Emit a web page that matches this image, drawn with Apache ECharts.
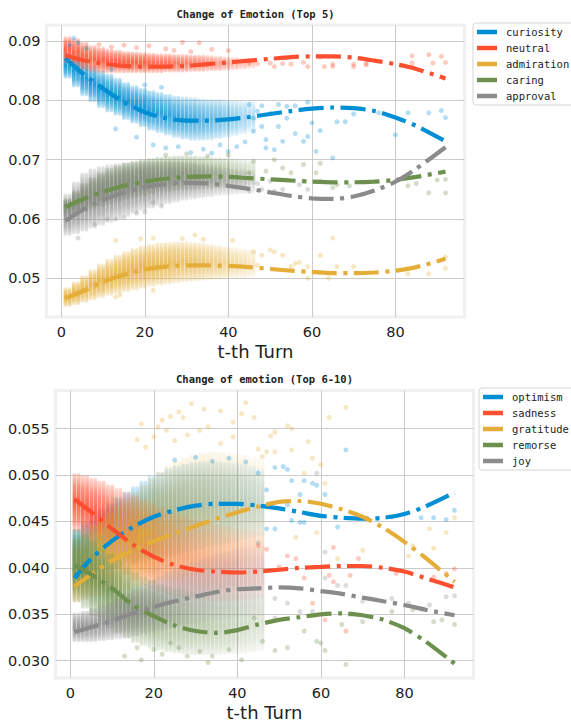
<!DOCTYPE html>
<html>
<head>
<meta charset="utf-8">
<script src="https://cdn.jsdelivr.net/npm/echarts@6/dist/echarts.min.js"></script>
<style>
html,body{margin:0;padding:0;background:#fff;}
#chart{width:571px;height:722px;}
</style>
</head>
<body>
<div id="chart"></div>
<script>
// ---------- DATA ----------
const topTitle = 'Change of Emotion (Top 5)';
const bottomTitle = 'Change of emotion (Top 6-10)';
const xName = 't-th Turn';
const topNames = ['curiosity', 'neutral', 'admiration', 'caring', 'approval'];
const bottomNames = ['optimism', 'sadness', 'gratitude', 'remorse', 'joy'];

// polynomial trend lines
const trendT = [1, 5, 10, 15, 20, 25, 30, 35, 40, 45, 50, 55, 60, 65, 70, 75, 80, 85, 92];
const curiosityFit = [.0871, .0846, .0820, .0797, .0780, .0770, .0766, .0766, .0768, .0772, .0777, .0782, .0786, .0788, .0787, .0782, .0771, .0757, .0731];
const neutralFit = [.0876, .0868, .0862, .0858, .0857, .0857, .0858, .0861, .0864, .0867, .0870, .0873, .0874, .0874, .0872, .0867, .0861, .0853, .0837];
const admirationFit = [.0467, .0478, .0494, .0506, .0515, .0520, .0522, .0522, .0521, .0519, .0516, .0513, .0511, .0509, .0509, .0510, .0513, .0519, .0533];
const caringFit = [.0620, .0633, .0646, .0656, .0663, .0668, .0671, .0672, .0671, .0669, .0667, .0665, .0663, .0662, .0662, .0663, .0666, .0671, .0680];
const approvalFit = [.0597, .0615, .0632, .0645, .0654, .0659, .0661, .0660, .0656, .0651, .0645, .0639, .0635, .0634, .0638, .0648, .0663, .0685, .0721];

const optimismFit = [.0389, .0410, .0429, .0444, .0455, .0462, .0467, .0469, .0469, .0467, .0464, .0460, .0456, .0454, .0453, .0454, .0458, .0466, .0481];
const sadnessFit = [.0474, .0460, .0442, .0425, .0412, .0403, .0398, .0396, .0395, .0396, .0398, .0400, .0401, .0402, .0402, .0400, .0396, .0389, .0379];
const gratitudeFit = [.0380, .0393, .0408, .0419, .0429, .0437, .0445, .0453, .0460, .0466, .0471, .0472, .0469, .0463, .0455, .0443, .0428, .0411, .0385];
const remorseFit = [.0403, .0393, .0378, .0360, .0348, .0338, .0332, .0330, .0333, .0339, .0344, .0347, .0350, .0351, .0349, .0344, .0335, .0321, .0297];
const joyFit = [.0331, .0336, .0343, .0351, .0358, .0364, .0369, .0374, .0377, .0378, .0379, .0378, .0375, .0372, .0368, .0364, .0360, .0355, .0349];

// dense point clouds: turn, low and high edge of the cloud, relative density
const bandT = [1, 3, 5, 7, 9, 11, 13, 15, 17, 19, 21, 23, 25, 27, 29, 31, 33, 35, 37, 39, 41, 43, 45];
const topDensity = [1, 1, 1, 1, 1, 1, 1, 1, 1, 1, .95, .92, .9, .87, .84, .8, .75, .7, .64, .57, .5, .42, .34];
const bottomDensity = [1, 1, 1, 1, 1, .95, .9, .85, .8, .75, .7, .66, .62, .58, .55, .52, .49, .46, .43, .39, .35, .31, .27];

const curiosityLo = [.0840, .0825, .0810, .0800, .0790, .0783, .0777, .0770, .0764, .0758, .0752, .0748, .0744, .0740, .0737, .0735, .0735, .0736, .0738, .0740, .0743, .0746, .0750];
const curiosityHi = [.0878, .0875, .0865, .0856, .0848, .0842, .0835, .0828, .0822, .0818, .0814, .0811, .0808, .0805, .0803, .0802, .0800, .0799, .0799, .0798, .0797, .0796, .0795];
const neutralLo = [.0866, .0860, .0853, .0850, .0849, .0849, .0849, .0849, .0849, .0849, .0849, .0849, .0850, .0850, .0850, .0851, .0851, .0852, .0852, .0853, .0854, .0855, .0856];
const neutralHi = [.0905, .0902, .0896, .0890, .0887, .0884, .0882, .0880, .0879, .0878, .0877, .0876, .0876, .0875, .0875, .0874, .0874, .0873, .0872, .0871, .0870, .0869, .0868];
const admirationLo = [.0455, .0458, .0462, .0466, .0470, .0474, .0477, .0480, .0483, .0486, .0489, .0491, .0493, .0495, .0497, .0498, .0499, .0500, .0501, .0502, .0503, .0504, .0505];
const admirationHi = [.0482, .0492, .0502, .0512, .0522, .0530, .0537, .0543, .0548, .0552, .0555, .0557, .0558, .0559, .0559, .0558, .0557, .0555, .0553, .0551, .0549, .0547, .0545];
const caringLo = [.0610, .0612, .0615, .0619, .0623, .0627, .0631, .0635, .0638, .0641, .0644, .0646, .0648, .0650, .0651, .0652, .0653, .0654, .0655, .0656, .0657, .0658, .0659];
const caringHi = [.0632, .0645, .0658, .0668, .0676, .0683, .0688, .0692, .0695, .0698, .0700, .0702, .0703, .0704, .0704, .0704, .0703, .0702, .0701, .0700, .0699, .0698, .0697];
const approvalLo = [.0575, .0578, .0582, .0587, .0592, .0597, .0602, .0607, .0612, .0617, .0621, .0625, .0628, .0631, .0634, .0636, .0638, .0640, .0642, .0643, .0644, .0645, .0646];
const approvalHi = [.0640, .0660, .0675, .0682, .0686, .0689, .0691, .0693, .0694, .0695, .0695, .0695, .0695, .0694, .0693, .0692, .0690, .0688, .0686, .0684, .0682, .0680, .0678];

const optimismLo = [.0385, .0390, .0395, .0398, .0400, .0402, .0404, .0406, .0408, .0410, .0412, .0414, .0416, .0418, .0420, .0422, .0424, .0426, .0428, .0430, .0432, .0434, .0436];
const optimismHi = [.0440, .0448, .0455, .0462, .0468, .0474, .0480, .0486, .0492, .0497, .0501, .0505, .0508, .0510, .0512, .0513, .0513, .0513, .0512, .0511, .0510, .0508, .0505];
const sadnessLo = [.0440, .0432, .0424, .0416, .0408, .0400, .0394, .0388, .0383, .0379, .0376, .0373, .0371, .0369, .0368, .0367, .0366, .0366, .0366, .0366, .0367, .0368, .0369];
const sadnessHi = [.0500, .0498, .0495, .0492, .0488, .0484, .0480, .0476, .0472, .0468, .0464, .0460, .0457, .0454, .0451, .0449, .0447, .0445, .0443, .0441, .0440, .0439, .0438];
const gratitudeLo = [.0365, .0368, .0370, .0372, .0374, .0376, .0378, .0380, .0382, .0384, .0386, .0388, .0390, .0392, .0394, .0396, .0398, .0400, .0402, .0404, .0406, .0408, .0410];
const gratitudeHi = [.0430, .0438, .0445, .0452, .0458, .0465, .0472, .0480, .0488, .0495, .0502, .0508, .0513, .0517, .0520, .0522, .0523, .0523, .0522, .0521, .0520, .0518, .0516];
const remorseLo = [.0365, .0358, .0350, .0343, .0337, .0331, .0326, .0321, .0318, .0315, .0313, .0311, .0310, .0309, .0308, .0308, .0308, .0308, .0309, .0309, .0310, .0311, .0312];
const remorseHi = [.0440, .0435, .0428, .0421, .0414, .0407, .0400, .0394, .0389, .0385, .0381, .0378, .0376, .0374, .0372, .0371, .0370, .0370, .0370, .0370, .0370, .0370, .0370];
const joyLo = [.0322, .0322, .0322, .0323, .0324, .0325, .0326, .0328, .0330, .0332, .0334, .0336, .0338, .0340, .0342, .0343, .0344, .0345, .0346, .0347, .0348, .0349, .0350];
const joyHi = [.0350, .0352, .0355, .0358, .0362, .0366, .0371, .0376, .0381, .0386, .0390, .0394, .0398, .0402, .0405, .0408, .0411, .0414, .0416, .0418, .0420, .0421, .0422];

// sparse individual points
const curiosityDots = [[45,.0793],[48,.0791],[52,.0793],[54,.0790],[56,.0791],[59,.0797],[46,.0748],[48,.0756],[49,.0734],[52,.0756],[53,.0731],[56,.0744],[58,.0731],[59,.0739],[60,.0762],[61,.0714],[62,.0749],[66,.0764],[68,.0764],[65,.0703],[70,.0777],[76,.0779],[83,.0779],[88,.0779],[91,.0783],[92,.0771],[80,.0742],[51,.0717],[49,.0720],[13,.0752],[18,.0738],[22,.0725],[25,.0720],[28,.0722],[31,.0712],[34,.0718],[36,.0711],[38,.0725],[40,.0714],[42,.0722],[44,.0730],[3,.0905],[2,.0893],[4,.0897],[6,.0888],[12,.0852],[20,.0826],[24,.0822],[46,.0770],[50,.0778],[47,.0782],[54,.0770]];
const neutralDots = [[9,.0894],[12,.0890],[15,.0893],[18,.0889],[21,.0892],[25,.0887],[27,.0884],[29,.0898],[31,.0882],[33,.0897],[36,.0886],[40,.0884],[45,.0863],[47,.0862],[50,.0863],[51,.0857],[53,.0862],[55,.0861],[58,.0864],[59,.0857],[62,.0873],[63,.0857],[65,.0861],[70,.0861],[73,.0862],[84,.0875],[88,.0877],[91,.0874],[92,.0864],[89,.0863],[84,.0863],[65,.0857],[70,.0857],[73,.0860]];
const admirationDots = [[13,.0469],[14,.0472],[22,.0480],[13,.0564],[19,.0567],[22,.0568],[29,.0567],[32,.0573],[34,.0566],[41,.0564],[46,.0545],[48,.0539],[50,.0548],[51,.0545],[53,.0539],[56,.0525],[57,.0527],[59,.0520],[62,.0539],[65,.0568],[64,.0500],[59,.0500],[66,.0520],[70,.0520],[83,.0508],[88,.0508],[92,.0517],[92,.0536],[47,.0522],[55,.0520]];
const caringDots = [[46,.0697],[51,.0700],[45,.0678],[49,.0681],[53,.0686],[55,.0678],[58,.0664],[58,.0692],[61,.0678],[65,.0653],[69,.0656],[83,.0656],[88,.0644],[92,.0667],[92,.0644],[90,.0666],[85,.0660],[62,.0694],[66,.0658],[25,.0708],[30,.0710],[35,.0706],[40,.0708]];
const approvalDots = [[45,.0647],[48,.0650],[51,.0647],[53,.0650],[57,.0658],[59,.0650],[62,.0664],[47,.0660],[50,.0664],[54,.0666],[4,.0568],[8,.0591],[11,.0600],[13,.0600],[15,.0603],[18,.0610],[20,.0612],[22,.0628],[24,.0622]];

const optimismDots = [[66,.0527],[49,.0508],[51,.0509],[52,.0506],[45,.0502],[47,.0484],[53,.0494],[56,.0494],[58,.0491],[59,.0489],[55,.0479],[61,.0479],[52,.0468],[56,.0449],[53,.0451],[49,.0442],[47,.0442],[64,.0444],[77,.0455],[84,.0454],[87,.0454],[90,.0452],[92,.0462],[55,.0449],[25,.0516],[30,.0519],[34,.0515],[38,.0518],[42,.0514]];
const sadnessDots = [[45,.0424],[47,.0420],[52,.0413],[50,.0401],[54,.0410],[56,.0389],[63,.0422],[66,.0332],[69,.0410],[62,.0392],[67,.0392],[78,.0394],[92,.0399],[90,.0394],[87,.0390],[58,.0362],[61,.0344],[63,.0385]];
const gratitudeDots = [[66,.0573],[62,.0562],[52,.0553],[53,.0550],[49,.0546],[48,.0542],[57,.0536],[49,.0525],[53,.0527],[58,.0518],[60,.0511],[61,.0491],[56,.0502],[70,.0419],[64,.0410],[86,.0442],[90,.0438],[87,.0421],[92,.0454],[81,.0413],[82,.0424],[46,.0520],[47,.0525],[45,.0528],[54,.0433],[59,.0438],[17,.0555],[16,.0538],[21,.0552],[22,.0559],[24,.0563],[26,.0568],[27,.0562],[29,.0577],[32,.0571],[36,.0569],[41,.0566],[42,.0578],[44,.0562],[23,.0548],[20,.0541],[18,.0530],[31,.0548],[33,.0552],[36,.0534],[39,.0557],[39,.0541],[25,.0537],[28,.0543]];
const remorseDots = [[44,.0346],[46,.0321],[49,.0311],[52,.0314],[56,.0332],[59,.0321],[60,.0319],[61,.0311],[66,.0296],[67,.0350],[70,.0342],[77,.0353],[82,.0355],[87,.0342],[89,.0344],[92,.0339],[65,.0339],[13,.0305],[17,.0301],[20,.0312],[22,.0307],[26,.0314],[28,.0305],[31,.0310],[33,.0298],[34,.0305],[38,.0312],[41,.0301],[24,.0319],[16,.0314]];
const joyDots = [[59,.0502],[61,.0417],[61,.0389],[64,.0381],[66,.0381],[70,.0364],[77,.0367],[81,.0362],[86,.0360],[92,.0370],[90,.0369],[49,.0367],[52,.0362],[55,.0353],[49,.0346],[58,.0353],[45,.0427]];

// ---------- STYLE ----------
const COLORS = ['#008fd5', '#fc4f30', '#e5ae38', '#6d904f', '#8b8b8b'];
const TEXT = '#222';
const SANS = '"DejaVu Sans", sans-serif';
const MONO = '"DejaVu Sans Mono", monospace';

function rgba(hex, a) {
  const n = parseInt(hex.slice(1), 16);
  return 'rgba(' + (n >> 16) + ',' + ((n >> 8) & 255) + ',' + (n & 255) + ',' + a.toFixed(3) + ')';
}

function bandSeries(name, lo, hi, density, color, gi) {
  return {
    type: 'custom', name: name + '_cloud', xAxisIndex: gi, yAxisIndex: gi,
    silent: true, clip: true, z: 2,
    data: bandT.map((t, i) => [t, lo[i], hi[i], density[i]]),
    encode: { x: 0, y: [1, 2] },
    renderItem: function (params, api) {
      const t = api.value(0), l = api.value(1), h = api.value(2), d = api.value(3);
      const kids = [];
      for (const dt of [0, 1]) {
        const p1 = api.coord([t + dt, h]);
        const p2 = api.coord([t + dt, l]);
        kids.push({
          type: 'rect',
          shape: { x: p1[0] - 1.9, y: p1[1] - 2, width: 3.8, height: p2[1] - p1[1] + 4, r: 1.9 },
          style: {
            fill: new echarts.graphic.LinearGradient(0, 0, 0, 1, [
              { offset: 0, color: rgba(color, 0.2 * d) },
              { offset: 0.22, color: rgba(color, 0.62 * d) },
              { offset: 0.5, color: rgba(color, 0.88 * d) },
              { offset: 0.78, color: rgba(color, 0.62 * d) },
              { offset: 1, color: rgba(color, 0.2 * d) }
            ])
          }
        });
      }
      return { type: 'group', children: kids };
    }
  };
}

function dotSeries(name, dots, color, gi) {
  return {
    type: 'scatter', name: name + '_pts', xAxisIndex: gi, yAxisIndex: gi,
    silent: true, z: 2, symbolSize: 5, data: dots,
    itemStyle: { color: color, opacity: 0.3 }
  };
}

function lineSeries(name, fit, color, gi) {
  return {
    type: 'line', name: name, xAxisIndex: gi, yAxisIndex: gi,
    silent: true, z: 5, showSymbol: false, smooth: 0.3,
    data: trendT.map((t, i) => [t, fit[i]]),
    itemStyle: { color: color },
    lineStyle: { color: color, width: 4.2, type: [25, 6.5, 4, 6.5], cap: 'butt' }
  };
}

const topSets = [
  ['curiosity', curiosityLo, curiosityHi, curiosityDots, curiosityFit],
  ['neutral', neutralLo, neutralHi, neutralDots, neutralFit],
  ['admiration', admirationLo, admirationHi, admirationDots, admirationFit],
  ['caring', caringLo, caringHi, caringDots, caringFit],
  ['approval', approvalLo, approvalHi, approvalDots, approvalFit]
];
const bottomSets = [
  ['optimism', optimismLo, optimismHi, optimismDots, optimismFit],
  ['sadness', sadnessLo, sadnessHi, sadnessDots, sadnessFit],
  ['gratitude', gratitudeLo, gratitudeHi, gratitudeDots, gratitudeFit],
  ['remorse', remorseLo, remorseHi, remorseDots, remorseFit],
  ['joy', joyLo, joyHi, joyDots, joyFit]
];

const series = [];
[[topSets, topDensity], [bottomSets, bottomDensity]].forEach((pair, gi) => {
  const sets = pair[0], dens = pair[1];
  sets.forEach((s, i) => {
    series.push(bandSeries(s[0], s[1], s[2], dens, COLORS[i], gi));
    series.push(dotSeries(s[0], s[3], COLORS[i], gi));
  });
  sets.forEach((s, i) => series.push(lineSeries(s[0], s[4], COLORS[i], gi)));
});

function xAxis(gi) {
  return {
    type: 'value', gridIndex: gi, min: -3.55, max: 96.55, splitNumber: 5,
    name: xName, nameLocation: 'middle', nameGap: 25,
    nameTextStyle: { fontFamily: SANS, fontSize: 18, color: TEXT },
    axisLine: { show: false }, axisTick: { show: false },
    axisLabel: { showMinLabel: false, showMaxLabel: false, fontFamily: SANS, fontSize: 14.5, color: TEXT, margin: 7 },
    splitLine: { show: true, showMinLine: false, showMaxLine: false, lineStyle: { color: '#cbcbcb', width: 1 } }
  };
}
function yAxis(gi, min, max, digits) {
  return {
    type: 'value', gridIndex: gi, min: min, max: max, splitNumber: 5,
    axisLine: { show: false }, axisTick: { show: false },
    axisLabel: { showMinLabel: false, showMaxLabel: false, fontFamily: SANS, fontSize: 14.5, color: TEXT, margin: 6,
      formatter: v => v.toFixed(digits) },
    splitLine: { show: true, showMinLine: false, showMaxLine: false, lineStyle: { color: '#cbcbcb', width: 1 } }
  };
}
function legend(names, left, top) {
  return {
    orient: 'vertical', left: left, top: top,
    data: names.map(n => ({ name: n, icon: 'rect' })),
    itemWidth: 20, itemHeight: 4.5, itemGap: 4,
    padding: [3, 6, 3, 4],
    backgroundColor: '#fff', borderColor: '#d5d5d5', borderWidth: 1, borderRadius: 3,
    selectedMode: false,
    textStyle: { fontFamily: MONO, fontSize: 10.5, color: TEXT, lineHeight: 12, padding: [0, 0, 0, 4] }
  };
}

const chart = echarts.init(document.getElementById('chart'), null, { renderer: 'svg', width: 571, height: 722 });
chart.setOption({
  animation: false,
  backgroundColor: '#fff',
  grid: [
    { left: 46.5, top: 25, width: 418, height: 292, show: true, borderColor: '#f0f0f0', borderWidth: 3, backgroundColor: 'transparent' },
    { left: 55.5, top: 390.5, width: 418, height: 291, show: true, borderColor: '#f0f0f0', borderWidth: 3, backgroundColor: 'transparent' }
  ],
  xAxis: [xAxis(0), xAxis(1)],
  yAxis: [yAxis(0, 0.0435, 0.0927, 2), yAxis(1, 0.02814, 0.0591, 3)],
  legend: [legend(topNames, 473, 23), legend(bottomNames, 479, 388)],
  graphic: [
    { type: 'text', x: 255.5, y: 14, style: { text: topTitle, font: 'bold 10.5px ' + MONO, fill: TEXT, align: 'center', verticalAlign: 'middle' } },
    { type: 'text', x: 264.5, y: 379, style: { text: bottomTitle, font: 'bold 10.5px ' + MONO, fill: TEXT, align: 'center', verticalAlign: 'middle' } }
  ],
  series: series
});
</script>
</body>
</html>
